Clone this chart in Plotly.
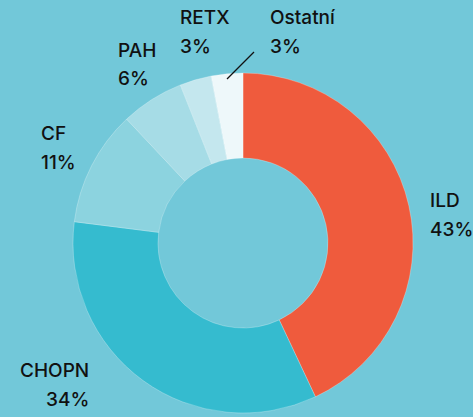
import plotly.graph_objects as go

categories = ["ILD", "CHOPN", "CF", "PAH", "RETX", "Ostatní"]
values = [43, 34, 11, 6, 3, 3]

colors = ["#EF5B3D", "#35BBCF", "#8CD3DF", "#A6DCE6", "#C4E7EE", "#EEF8FA"]
BG = "#72C8D9"

W, H = 473, 417
# label anchor positions in pixels (x, y of name line), alignment
label_pos = [(428, 200, "left"), (91, 370, "right"), (39, 133, "left"),
             (116, 50, "left"), (178, 18, "left"), (268, 18, "left")]

fig = go.Figure()
fig.add_trace(go.Pie(
    labels=categories, values=values, hole=0.5, sort=False,
    direction="clockwise", rotation=0,
    marker=dict(colors=colors, line=dict(color="rgba(255,255,255,0.25)", width=1)),
    textinfo="none", hoverinfo="label+percent", showlegend=False,
    domain=dict(x=[73 / W, 413 / W], y=[1 - 413 / H, 1 - 73 / H]),
))

total = sum(values)
font = dict(family="Inter, Lato, sans-serif", size=19, color="#111111", weight=500)
for cat, v, (px, py, al) in zip(categories, values, label_pos):
    anchor = "left" if al == "left" else "right"
    for txt, yy in ((cat, py), (f"{round(100 * v / total)}%", py + 29)):
        fig.add_annotation(x=px / W, y=1 - yy / H, xref="paper", yref="paper",
                           text=txt, showarrow=False, xanchor=anchor,
                           yanchor="middle", font=font)

# leader line for Ostatní
fig.add_shape(type="line", xref="paper", yref="paper",
              x0=227 / W, y0=1 - 79 / H, x1=254 / W, y1=1 - 52 / H,
              line=dict(color="#111111", width=1.3))

fig.update_layout(width=W, height=H, margin=dict(l=0, r=0, t=0, b=0),
                  paper_bgcolor=BG, plot_bgcolor=BG)
fig.write_html("out.html", config={"displayModeBar": False},
               post_script="document.body.style.margin='0';document.body.style.background='" + BG + "';")
